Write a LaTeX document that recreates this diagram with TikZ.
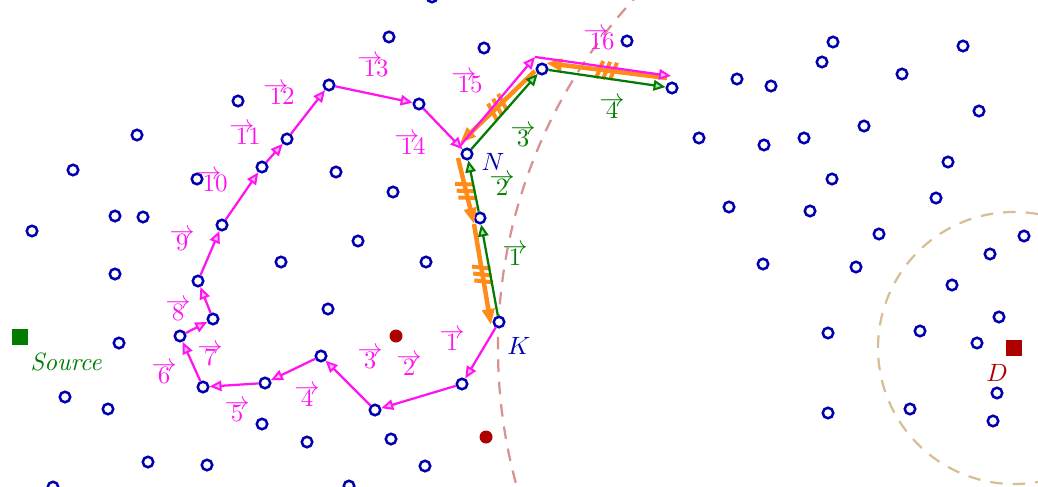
\documentclass[tikz,border=0pt]{standalone}
\usetikzlibrary{arrows.meta,decorations.markings}
\definecolor{nblue}{RGB}{0,0,175}
\definecolor{dred}{RGB}{175,0,0}
\definecolor{dgreen}{RGB}{0,125,0}
\definecolor{mag}{RGB}{255,20,240}
\definecolor{org}{RGB}{255,140,25}
\definecolor{pinkd}{RGB}{215,145,145}
\definecolor{tand}{RGB}{215,190,150}
\newcommand{\vlab}[2]{\rlap{\hspace{-2.5pt}\raisebox{4.8pt}{$\rightarrow$}}#1#2}
\tikzset{
 bnode/.style={circle,draw=nblue,line width=1pt,fill=white,minimum size=4.2pt,inner sep=0pt},
 magline/.style={draw=mag,line width=0.9pt,-{Triangle[length=4.8pt,width=4.2pt,fill=mag!30,line width=0.8pt]}},
 grnline/.style={draw=dgreen,line width=0.9pt,-{Triangle[length=4.8pt,width=4.2pt,fill=dgreen!30,line width=0.8pt]}},
 orgline/.style={draw=org,line width=1.8pt,-{Triangle[length=6.4pt,width=4.8pt]},
   postaction={decorate},
   decoration={markings, mark=at position 0.5 with {\draw[org,line width=1.6pt,-] (-3.8pt,-3.6pt)--(-1.8pt,3.6pt) (-1pt,-3.6pt)--(1pt,3.6pt) (1.8pt,-3.6pt)--(3.8pt,3.6pt);}}},
 mlab/.style={text=mag,anchor=base,inner sep=0pt},
 glab/.style={text=dgreen,anchor=base,inner sep=0pt},
 reddot/.style={circle,fill=dred,minimum size=5.2pt,inner sep=0pt},
 sq/.style={minimum size=6.4pt,inner sep=0pt},
 dcircle/.style={line width=0.9pt,dash pattern=on 5pt off 4pt},
}
\begin{document}
\begin{tikzpicture}[x=0.4pt,y=-0.4pt]
\useasboundingbox (0,0) rectangle (1038,486);
\clip (0,0) rectangle (1038,486);
% destination and dashed circles
\node[sq,fill=dred] (D) at (1014,348) {};
\draw[dcircle,pinkd] (D.center) circle[radius=516];
\draw[dcircle,tand] (D.center) circle[radius=136];
\node[text=dred] (Dl) at (997,373) {$D$};
\node[sq,fill=dgreen] (S) at (20,337) {};
\node[text=dgreen] (Sl) at (66,362) {\textit{Source}};
% other nodes
\foreach \x/\y [count=\i] in {432/-3,389/37,484/48,627/41,238/101,137/135,73/170,197/179,336/172,393/192,115/216,143/217,32/231,358/241,281/262,426/262,115/274,328/309,119/343,65/397,108/409,262/424,307/442,391/439,148/462,207/465,425/466,53/487,349/486,833/42,822/62,737/79,771/86,963/46,902/74,979/111,699/138,764/145,804/138,864/126,832/179,948/162,936/198,729/207,810/211,879/234,1024/236,990/254,763/264,856/267,952/285,999/317,828/333,920/331,977/343,997/393,993/421,828/413,910/409}
  \node[bnode] (b\i) at (\x,\y) {};
\node[reddot] (r1) at (396,336) {};
\node[reddot] (r2) at (486,437) {};
% path nodes
\node[bnode] (K) at (499,322) {};
\node[bnode] (p1) at (462,384) {};
\node[bnode] (p2) at (375,410) {};
\node[bnode] (p3) at (321,356) {};
\node[bnode] (p4) at (265,383) {};
\node[bnode] (p5) at (203,387) {};
\node[bnode] (p6) at (180,336) {};
\node[bnode] (p7) at (213,319) {};
\node[bnode] (p8) at (198,281) {};
\node[bnode] (p9) at (222,225) {};
\node[bnode] (p10) at (262,167) {};
\node[bnode] (p11) at (287,139) {};
\node[bnode] (p12) at (329,85) {};
\node[bnode] (p13) at (419,104) {};
\node[bnode] (N) at (467,154) {};
\node[bnode] (M) at (480,218) {};
\node[bnode] (Q) at (542,69) {};
\node[bnode] (R) at (672,88) {};
\node[text=nblue] (Nl) at (493,162) {$N$};
\node[text=nblue] (Kl) at (519,346) {$K$};
% orange reverse path
\coordinate (oa1) at (667,78);
\coordinate (oa2) at (546,63);
\coordinate (ob1) at (535,71);
\coordinate (ob2) at (460,143);
\coordinate (oc1) at (458,158);
\coordinate (oc2) at (474,224);
\coordinate (od2) at (491,325);
\draw[orgline] (oa1) -- (oa2);
\draw[orgline] (ob1) -- (ob2);
\draw[orgline] (oc1) -- (oc2);
\draw[orgline] (oc2) -- (od2);
% green path
\draw[grnline] (K) -- (M);
\draw[grnline] (M) -- (N);
\draw[grnline] (N) -- (Q);
\draw[grnline] (Q) -- (R);
% magenta path
\draw[magline] (K) -- (p1);
\draw[magline] (p1) -- (p2);
\draw[magline] (p2) -- (p3);
\draw[magline] (p3) -- (p4);
\draw[magline] (p4) -- (p5);
\draw[magline] (p5) -- (p6);
\draw[magline] (p6) -- (p7);
\draw[magline] (p7) -- (p8);
\draw[magline] (p8) -- (p9);
\draw[magline] (p9) -- (p10);
\draw[magline] (p10) -- (p11);
\draw[magline] (p11) -- (p12);
\draw[magline] (p12) -- (p13);
\draw[magline] (p13) -- (N);
\coordinate (m15a) at (460,146);
\coordinate (m15b) at (535,57);
\coordinate (m16b) at (671,76);
\draw[magline] (m15a) -- (m15b);
\draw[magline] (m15b) -- (m16b);
% magenta labels
\node[mlab] (l1) at (452,350) {\vlab{1}{}};
\node[mlab] (l2) at (409,375) {\vlab{2}{}};
\node[mlab] (l3) at (370,368) {\vlab{3}{}};
\node[mlab] (l4) at (307,406) {\vlab{4}{}};
\node[mlab] (l5) at (237,421) {\vlab{5}{}};
\node[mlab] (l6) at (164,383) {\vlab{6}{}};
\node[mlab] (l7) at (210,365) {\vlab{7}{}};
\node[mlab] (l8) at (178,320) {\vlab{8}{}};
\node[mlab] (l9) at (182,250) {\vlab{9}{}};
\node[mlab] (l10) at (215,191) {\vlab{1}{0}};
\node[mlab] (l11) at (248,145) {\vlab{1}{1}};
\node[mlab] (l12) at (282,105) {\vlab{1}{2}};
\node[mlab] (l13) at (376,77) {\vlab{1}{3}};
\node[mlab] (l14) at (413,154) {\vlab{1}{4}};
\node[mlab] (l15) at (470,93) {\vlab{1}{5}};
\node[mlab] (l16) at (602,50) {\vlab{1}{6}};
% green labels
\node[glab] (g1) at (515,265) {\vlab{1}{}};
\node[glab] (g2) at (502,195) {\vlab{2}{}};
\node[glab] (g3) at (523,146) {\vlab{3}{}};
\node[glab] (g4) at (612,118) {\vlab{4}{}};
\end{tikzpicture}
\end{document}
